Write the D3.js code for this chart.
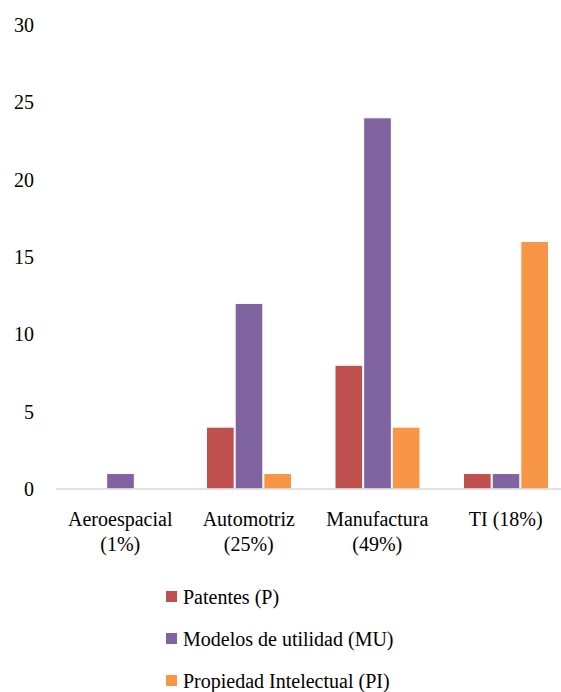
<!DOCTYPE html>
<html><head><meta charset="utf-8">
<script src="https://cdn.jsdelivr.net/npm/d3@7"></script>
<style>body{margin:0;background:#fff} #c text{font-family:"Liberation Serif" !important}</style>
</head><body><svg id="c" width="561" height="692"></svg>
<script>
const categories = [["Aeroespacial","(1%)"],["Automotriz","(25%)"],["Manufactura","(49%)"],["TI (18%)"]];
const seriesNames = ["Patentes (P)","Modelos de utilidad (MU)","Propiedad Intelectual (PI)"];
const patentes = [0,4,8,1];
const modelos = [1,12,24,1];
const propiedad = [0,1,4,16];
const yTicks = [0,5,10,15,20,25,30];
const colors = ["#C0504D","#8064A2","#F79646"];
const seriesVals = [patentes, modelos, propiedad];
const FONT = "Liberation Serif";

const svg = d3.select("#c");
const x0 = d3.scaleBand().domain(d3.range(categories.length)).range([56,570]).paddingInner(0).paddingOuter(0);
const x1 = d3.scaleBand().domain(d3.range(3)).range([21.5,107.5]).padding(0);
const y = d3.scaleLinear().domain([0,30]).range([489,25]);

// y tick labels
svg.append("g").selectAll("text").data(yTicks).join("text")
  .attr("x",34).attr("y",d=>y(d)+7).attr("text-anchor","end")
  .attr("font-family",FONT).attr("font-size",20).text(d=>d);

// bars
const g = svg.append("g");
categories.forEach((c,i)=>{
  seriesVals.forEach((vals,s)=>{
    const v = vals[i];
    if(!v) return;
    g.append("rect")
      .attr("x", x0(i)+x1(s)+0.5)
      .attr("width", x1.bandwidth()-1)
      .attr("y", y(v))
      .attr("height", y(0)-y(v))
      .attr("fill", colors[s])
      .attr("stroke","#fff").attr("stroke-width",1);
  });
});

// baseline
svg.append("line").attr("x1",56).attr("x2",570).attr("y1",y(0)).attr("y2",y(0))
  .attr("stroke","#d9d9d9").attr("stroke-width",1.5);

// category labels
categories.forEach((c,i)=>{
  const cx = x0(i)+x0.bandwidth()/2;
  c.forEach((line,k)=>{
    svg.append("text").attr("text-anchor","middle")
      .attr("font-family",FONT).attr("font-size",20)
      .attr("x", cx).attr("y",526+k*25).text(line);
  });
});

// legend
const ly = [597,639,681];
seriesNames.forEach((n,s)=>{
  svg.append("rect").attr("x",166).attr("y",ly[s]-6).attr("width",11).attr("height",11).attr("fill",colors[s]);
  svg.append("text").attr("x",183).attr("y",ly[s]+7)
    .attr("font-family",FONT).attr("font-size",20).text(n);
});
</script></body></html>
